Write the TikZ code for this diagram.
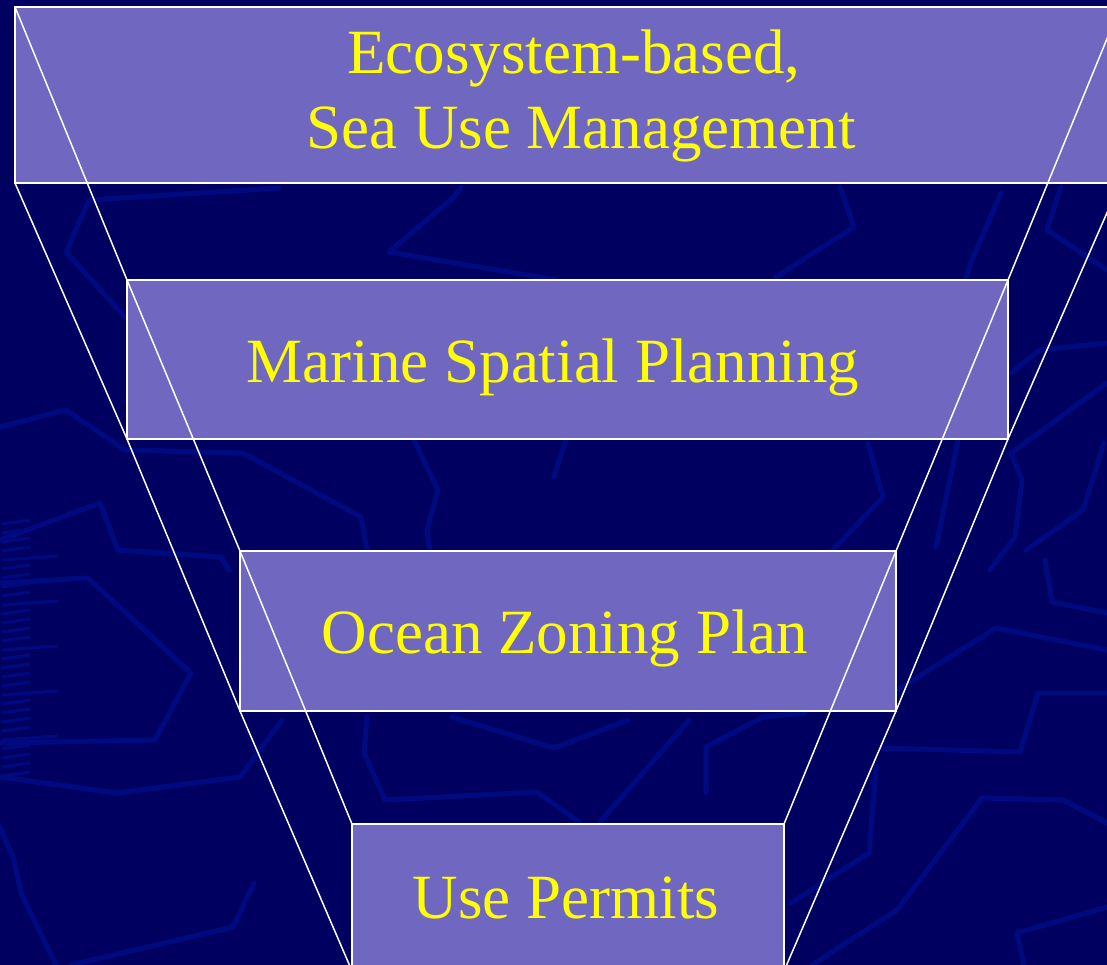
\documentclass[tikz,border=0pt]{standalone}
\usepackage{fontspec}
\setmainfont{Liberation Serif}
\definecolor{bgnavy}{HTML}{000060}
\definecolor{mapblue}{HTML}{000A80}
\definecolor{boxfill}{HTML}{7067C0}
\definecolor{txtyellow}{HTML}{FFFF00}
\begin{document}
\begin{tikzpicture}[x=1pt,y=-1pt,
  tier/.style={draw=white, line width=2pt, fill=boxfill, inner sep=0pt, outer sep=0pt, anchor=north west},
  tiertext/.style={text=txtyellow, font=\fontsize{63}{76}\selectfont, anchor=base, inner sep=0pt},
  funnel/.style={draw=white, line width=1.5pt},
  mapline/.style={draw=mapblue, line width=5pt, line join=round, line cap=round}]
\useasboundingbox (0,0) rectangle (1107,965);
\clip (0,0) rectangle (1107,965);
\fill[bgnavy] (0,0) rectangle (1107,965);
% faint map outlines
\draw[mapline] (0,427) -- (66,410) -- (125,450) -- (243,453) -- (361,517) -- (371,570);
\draw[mapline] (0,540) -- (100,503) -- (118,550) -- (221,557) -- (229,570);
\draw[mapline] (279,188) -- (89,200) -- (66,252) -- (125,317) -- (140,330);
\draw[mapline] (461,187) -- (454,197) -- (389,252) -- (557,280);
\draw[mapline] (414,440) -- (438,490) -- (427,530) -- (432,570);
\draw[mapline] (840,187) -- (854,227) -- (776,277);
\draw[mapline] (1001,193) -- (972,260) -- (965,280);
\draw[mapline] (1061,187) -- (1047,230) -- (1107,270);
\draw[mapline] (554,477) -- (568,433);
\draw[mapline] (868,443) -- (883,497) -- (833,550);
\draw[mapline] (1107,383) -- (1011,453) -- (1022,480) -- (1015,537) -- (990,570);
\draw[mapline] (1107,343) -- (1040,350) -- (1011,373);
\draw[mapline] (1104,443) -- (1083,510) -- (1026,550);
\draw[mapline] (958,440) -- (936,547);
\draw[mapline] (0,583) -- (88,578) -- (191,673) -- (155,740) -- (0,743);
\draw[mapline] (0,777) -- (117,793) -- (240,777) -- (282,720);
\draw[mapline] (0,827) -- (14,860) -- (21,893) -- (56,965);
\draw[mapline] (254,883) -- (233,927) -- (71,965);
\draw[mapline] (367,717) -- (364,753) -- (385,800) -- (537,792) -- (579,822);
\draw[mapline] (452,717) -- (554,748) -- (628,720);
\draw[mapline] (689,720) -- (600,822);
\draw[mapline] (706,793) -- (706,747) -- (763,717) -- (805,713);
\draw[mapline] (1045,560) -- (1052,602) -- (1107,613);
\draw[mapline] (897,690) -- (996,628) -- (1107,650);
\draw[mapline] (883,748) -- (1020,752) -- (1038,693) -- (1107,693);
\draw[mapline] (791,903) -- (869,853) -- (876,767);
\draw[mapline] (812,965) -- (897,910) -- (982,798) -- (1063,800) -- (1107,823);
\draw[mapline] (1024,965) -- (1017,933) -- (1107,907);
\foreach \yy [count=\k] in {520,529,...,780}{
  \pgfmathsetmacro{\len}{ifthenelse(mod(\k,5)==0,58,30)}
  \draw[draw=mapblue, line width=3pt] (2,\yy+4) -- (\len,\yy);
}
% tiers
\node[tier, minimum width=1105pt, minimum height=176pt] (b1) at (15,7) {};
\node[tier, minimum width=881pt, minimum height=159pt] (b2) at (127,280) {};
\node[tier, minimum width=656pt, minimum height=160pt] (b3) at (240,551) {};
\node[tier, minimum width=432pt, minimum height=147pt] (b4) at (352,824) {};
% funnel lines
\draw[funnel] (b1.north west) -- (b2.north west) -- (b3.north west) -- (b4.north west);
\draw[funnel] (b1.south west) -- (b2.south west) -- (b3.south west) -- (b4.south west);
\draw[funnel] (b1.north east) -- (b2.north east) -- (b3.north east) -- (b4.north east);
\draw[funnel] (b1.south east) -- (b2.south east) -- (b3.south east) -- (b4.south east);
% texts
\node[tiertext] (t1a) at (574,74) {Ecosystem-based,};
\node[tiertext] (t1b) at (581,149) {Sea Use Management};
\node[tiertext] (t2) at (553,382) {Marine Spatial Planning};
\node[tiertext] (t3) at (565,653) {Ocean Zoning Plan};
\node[tiertext] (t4) at (566,918) {Use Permits};
\end{tikzpicture}
\end{document}
